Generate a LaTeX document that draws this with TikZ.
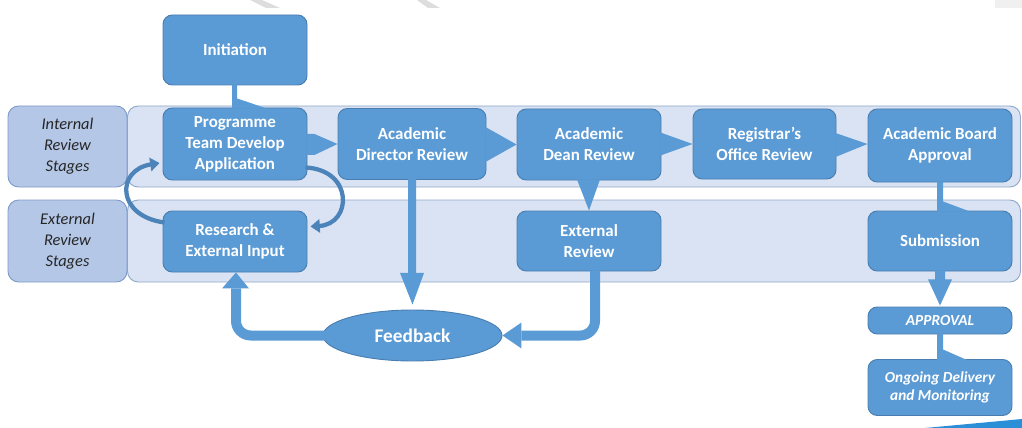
\documentclass[tikz,border=0pt]{standalone}
\usepackage{fontspec}
\setmainfont{Carlito}
\usetikzlibrary{arrows.meta,shapes.geometric,calc}
\definecolor{boxblue}{HTML}{5B9BD5}
\definecolor{boxedge}{HTML}{4A7EB0}
\definecolor{bandfill}{HTML}{DAE3F3}
\definecolor{bandedge}{HTML}{8FA8C8}
\definecolor{lblfill}{HTML}{B4C7E7}
\definecolor{lbledge}{HTML}{7F9CC8}
\definecolor{curveblue}{HTML}{4C83B9}
\definecolor{wmgray}{HTML}{DDDDDD}
\definecolor{wmlight}{HTML}{F0F0F0}
\definecolor{swoosh}{HTML}{2B8FD8}
\begin{document}
\begin{tikzpicture}[x=0.75pt,y=-0.75pt,
  sz/.style 2 args={minimum width=#1*0.75pt, minimum height=#2*0.75pt},
  stagebox/.style={rectangle, rounded corners=7pt, fill=boxblue, draw=boxedge,
    line width=0.7pt, text=white, align=center, inner sep=0pt,
    font=\bfseries\fontsize{12.7}{15.75}\selectfont},
  smallbox/.style={stagebox, font=\bfseries\itshape\fontsize{11.5}{13.5}\selectfont},
  band/.style={rectangle, rounded corners=8pt, fill=bandfill, draw=bandedge, line width=0.7pt, inner sep=0pt},
  lbl/.style={rectangle, rounded corners=8pt, fill=lblfill, draw=lbledge, line width=0.7pt,
    inner sep=0pt, align=center, text=black!85, font=\itshape\fontsize{12.3}{15.75}\selectfont},
  flow/.style={fill=boxblue},
  thick flow/.style={draw=boxblue, line width=7.5pt, rounded corners=11pt},
  loop/.style={draw=curveblue, line width=3.2pt, -{Triangle[length=7pt,width=10pt]}}
]
\useasboundingbox (0,0) rectangle (1022,428);

% watermark remnants
\fill[wmgray] (250,0) -- (262,0) -- (280,8) -- (266,8) -- cycle;
\fill[wmgray] (417,0) -- (426,0) -- (440,8) -- (428,8) -- cycle;
\fill[wmlight] (995,0) rectangle (1022,8);
\fill[swoosh] (925,428) -- (1022,419) -- (1022,428) -- cycle;

% bands and labels
\node[band, sz={893}{81}] (bandInt) at (574,146.5) {};
\node[band, sz={893}{82}] (bandExt) at (574,241) {};
\node[lbl, sz={119}{81}] (lblInt) at (67.5,146.5) {Internal\\Review\\Stages};
\node[lbl, sz={119}{82}] (lblExt) at (67.5,241) {External\\Review\\Stages};

% boxes
\node[stagebox, sz={144}{70}] (init) at (235,50) {Initiation};
\node[stagebox, sz={144}{72}] (prog) at (235,144) {Programme\\Team Develop\\Application};
\node[stagebox, sz={148}{71}] (dir) at (412,144) {Academic\\Director Review};
\node[stagebox, sz={144}{71}] (dean) at (589,144.5) {Academic\\Dean Review};
\node[stagebox, sz={143}{70}] (reg) at (764.5,144) {Registrar’s\\Office Review};
\node[stagebox, sz={144}{73}] (board) at (940,145.5) {Academic Board\\Approval};
\node[stagebox, sz={144}{61}] (research) at (235,241.5) {Research \&\\External Input};
\node[stagebox, sz={144}{60}] (extrev) at (589,241) {External\\Review};
\node[stagebox, sz={144}{60}] (submission) at (940,241) {Submission};
\node[smallbox, sz={144}{27}] (approval) at (940,320.5) {APPROVAL};
\node[smallbox, sz={144}{56}] (ongoing) at (940,387.5) {Ongoing Delivery\\and Monitoring};
\node[ellipse, fill=boxblue, draw=boxedge, line width=0.7pt, inner sep=0pt, sz={179}{51},
  text=white, font=\bfseries\fontsize{14.5}{17}\selectfont] (feedback) at (412.5,335.5) {Feedback};

% wedge connectors along the internal row
\fill[flow] ($(prog.east)+(-1,-10)$) -- ($(prog.east)+(7,-10)$) -- (dir.west)
  -- ($(prog.east)+(7,11)$) -- ($(prog.east)+(-1,11)$) -- cycle;
\fill[flow] ($(dir.east)+(-1,-17)$) -- ($(dean.west)+(0,0)$) -- ($(dir.east)+(-1,18)$) -- cycle;
\fill[flow] ($(dean.east)+(-1,-12)$) -- ($(reg.west)+(0,0)$) -- ($(dean.east)+(-1,11)$) -- cycle;
\fill[flow] ($(reg.east)+(-1,-11)$) -- ($(board.west)+(0,-1.5)$) -- ($(reg.east)+(-1,13)$) -- cycle;
\fill[flow] ($(dean.south)+(-12,-1)$) -- (extrev.north) -- ($(dean.south)+(11,-1)$) -- cycle;

% callout connectors
\fill[flow] ($(init.south)+(-3,-1)$) -- ($(init.south)+(2,-1)$) -- ($(init.south)+(2,13)$)
  -- ($(prog.north)+(32,1)$) -- ($(prog.north)+(-3,1)$) -- cycle;
\fill[flow] ($(board.south)+(-3,-1)$) -- ($(board.south)+(3,-1)$) -- ($(board.south)+(3,19)$)
  -- ($(submission.north)+(30,1)$) -- ($(submission.north)+(-3,1)$) -- cycle;
\fill[flow] ($(approval.south)+(-3,-1)$) -- ($(approval.south)+(3,-1)$) -- ($(approval.south)+(3,15)$)
  -- ($(ongoing.north)+(27,1)$) -- ($(ongoing.north)+(-3,1)$) -- cycle;

% block arrows
\fill[flow] ($(submission.south)+(-5,-1)$) -- ($(submission.south)+(5,-1)$) -- ($(submission.south)+(5,8)$)
  -- ($(submission.south)+(12,8)$) -- ($(approval.north)+(0,-1)$) -- ($(submission.south)+(-12,8)$)
  -- ($(submission.south)+(-5,8)$) -- cycle;
\fill[flow] ($(dir.south)+(-4,-1)$) -- ($(dir.south)+(4,-1)$) -- ($(dir.south)+(4,93)$)
  -- ($(dir.south)+(12,93)$) -- ($(feedback.north)+(0,-5)$) -- ($(dir.south)+(-12,93)$)
  -- ($(dir.south)+(-4,93)$) -- cycle;

% feedback loops
\draw[thick flow] ($(feedback.west)+(3,0)$) -| ($(research.south)+(1,16)$);
\fill[flow] ($(research.south)+(-13,16)$) -- ($(research.south)+(1,0)$) -- ($(research.south)+(14,16)$) -- cycle;
\draw[thick flow] ($(extrev.south)+(6,-1)$) |- ($(feedback.east)+(19,0)$);
\fill[flow] ($(feedback.east)+(19,-13)$) -- (feedback.east) -- ($(feedback.east)+(19,13)$) -- cycle;

% curved arrows between programme and research
\draw[loop] ($(research.north west)+(2,12)$) .. controls (116,216) and (116,170) .. ($(prog.west)+(-3,19)$);
\draw[loop] ($(prog.south east)+(-2,-13)$) .. controls (354,170) and (352,224) .. ($(research.north east)+(3,16)$);
\end{tikzpicture}
\end{document}
